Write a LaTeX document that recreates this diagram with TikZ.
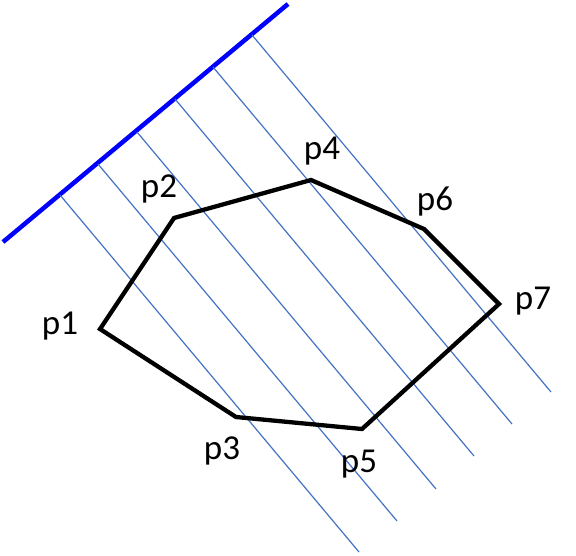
\documentclass[tikz,border=0pt]{standalone}
\usepackage{fontspec}
\setmainfont{Carlito}
\definecolor{raio}{RGB}{68,114,196}
\begin{document}
\begin{tikzpicture}[x=1pt, y=-1pt,
		rotulo/.style={inner sep=0pt, font=\fontsize{35}{40}\selectfont},
		projecao/.style={draw=raio, line width=1.2pt},
		poligono/.style={line width=4.3pt, line join=miter}]
	
		\useasboundingbox (0,0) rectangle (576,555);
		
		% Reta de projecao
		
		\draw[blue, line width=4.5pt] (3., 242.) -- (288., 4.);
		
		% Raios perpendiculares
		
		\draw[projecao] (60., 195.) -- (359., 552.);
		
		\draw[projecao] (98., 164.) -- (397., 521.);
		
		\draw[projecao] (137., 132.) -- (436., 489.);
		
		\draw[projecao] (175., 99.) -- (474., 456.);
		
		\draw[projecao] (213., 67.) -- (512., 424.);
		
		\draw[projecao] (252., 35.) -- (551., 392.);
		
		% Poligono
		
		\coordinate (v1) at (100., 329.);
		\coordinate (v2) at (174., 218.);
		\coordinate (v4) at (311., 180.);
		\coordinate (v6) at (424., 229.);
		\coordinate (v7) at (499., 304.);
		\coordinate (v5) at (362., 429.);
		\coordinate (v3) at (236., 417.);
		
		\draw[poligono] (v1) -- (v2) -- (v4) -- (v6) -- (v7) -- (v5) -- (v3) -- cycle;
		
		% Rotulos
		
		\draw node[rotulo] (no1) at (60., 326.) {p1} ;
		
		\draw node[rotulo] (no2) at (159., 189.) {p2} ;
		
		\draw node[rotulo] (no3) at (222., 451.) {p3} ;
		
		\draw node[rotulo] (no4) at (322., 151.) {p4} ;
		
		\draw node[rotulo] (no5) at (359., 464.) {p5} ;
		
		\draw node[rotulo] (no6) at (435., 201.) {p6} ;
		
		\draw node[rotulo] (no7) at (533., 301.) {p7} ;
		
	\end{tikzpicture}
\end{document}
